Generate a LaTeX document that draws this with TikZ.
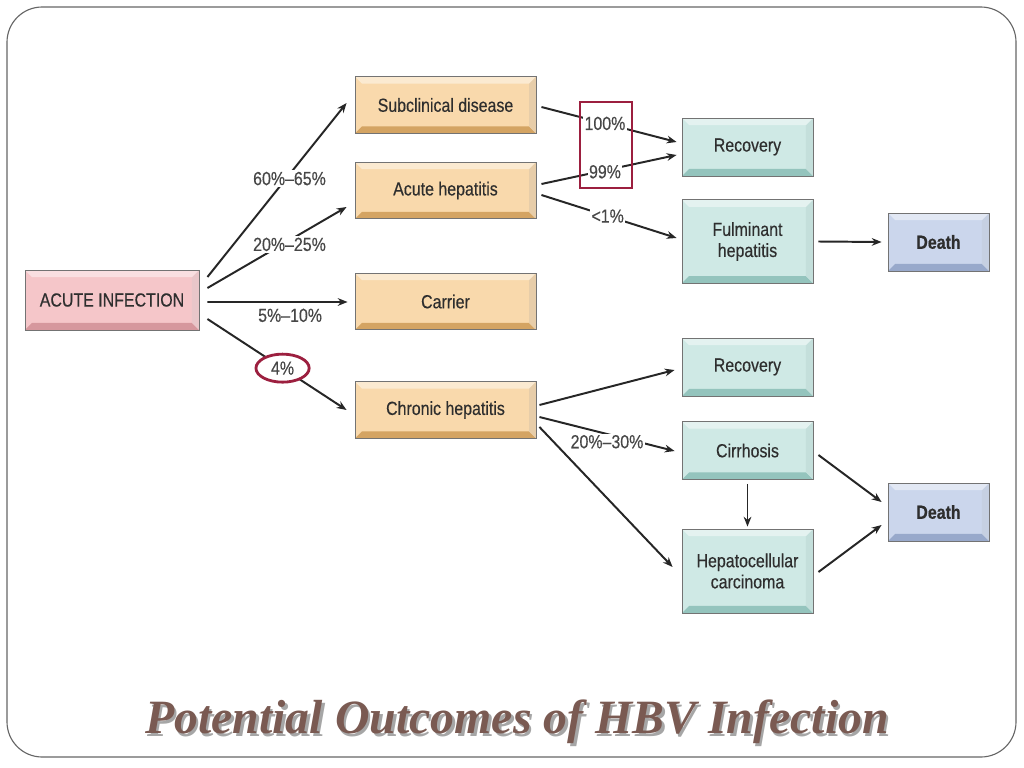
\documentclass[tikz,border=0pt]{standalone}
\usepackage{fontspec}
\setmainfont{Liberation Sans}[FakeStretch=0.84, FakeBold=0.35]
\newfontfamily\titlefont{Liberation Serif}
\usetikzlibrary{arrows.meta,shapes.geometric}
\definecolor{peach}{HTML}{F9D9AC}
\definecolor{peachdk}{HTML}{D4A463}
\definecolor{tealbox}{HTML}{CFE9E5}
\definecolor{tealdk}{HTML}{94C4BD}
\definecolor{bluebox}{HTML}{CBD6EC}
\definecolor{bluedk}{HTML}{98A9CB}
\definecolor{pinkbox}{HTML}{F5C6C9}
\definecolor{pinkdk}{HTML}{D6979D}
\definecolor{hilite}{HTML}{9C1F3F}
\definecolor{titlebrown}{HTML}{7A5A52}
\tikzset{
  bevel/.style={path picture={
    \fill[#1] (path picture bounding box.south west)
      -- ([shift={(5pt,5pt)}]path picture bounding box.south west)
      -- ([shift={(-5pt,5pt)}]path picture bounding box.south east)
      -- (path picture bounding box.south east) -- cycle;
    \fill[#1!55] (path picture bounding box.south east)
      -- ([shift={(-5pt,5pt)}]path picture bounding box.south east)
      -- ([shift={(-5pt,-5pt)}]path picture bounding box.north east)
      -- (path picture bounding box.north east) -- cycle;
    \fill[white,opacity=0.45] (path picture bounding box.north west)
      -- ([shift={(5pt,-5pt)}]path picture bounding box.north west)
      -- ([shift={(-5pt,-5pt)}]path picture bounding box.north east)
      -- (path picture bounding box.north east) -- cycle;}},
  box/.style={draw=black!55, line width=0.6pt, align=center, text=black!82,
    font=\fontsize{13.5}{15}\selectfont},
  start/.style={box, fill=pinkbox, bevel=pinkdk, minimum width=4.35cm, minimum height=1.5cm},
  stage/.style={box, fill=peach, bevel=peachdk, minimum width=4.525cm, minimum height=1.42cm},
  outcome/.style={box, fill=tealbox, bevel=tealdk, minimum width=3.275cm, minimum height=1.45cm},
  death/.style={box, fill=bluebox, bevel=bluedk, minimum width=2.525cm, minimum height=1.45cm,
    font=\fontsize{13.5}{15}\selectfont\bfseries},
  arr/.style={-{Stealth[length=7pt,width=5.5pt]}, line width=1.4pt, black!85},
  pct/.style={fill=white, inner sep=1pt, text=black!72, font=\fontsize{13.5}{15}\selectfont}
}
\begin{document}
\begin{tikzpicture}[x=0.025cm,y=-0.025cm]
\useasboundingbox (0,0) rectangle (1024,768);
\draw[black!60, line width=0.8pt, rounded corners=25pt] (7,7) rectangle (1016,757);

\node[start] (infect) at (112,300) {ACUTE INFECTION};
\node[stage] (sub) at (445.5,105) {Subclinical disease};
\node[stage] (acute) at (445.5,190.5) {Acute hepatitis};
\node[stage] (carrier) at (445.5,301.5) {Carrier};
\node[stage] (chronic) at (445.5,410) {Chronic hepatitis};
\node[outcome] (rec1) at (747.5,147) {Recovery};
\node[outcome, minimum height=2.08cm] (fulm) at (747.5,241.5) {Fulminant\\hepatitis};
\node[death] (death1) at (938.5,242) {Death};
\node[outcome] (rec2) at (747.5,367) {Recovery};
\node[outcome] (cirr) at (747.5,450.5) {Cirrhosis};
\node[outcome, minimum height=2.1cm] (hcc) at (747.5,571) {Hepatocellular\\carcinoma};
\node[death] (death2) at (938.5,512) {Death};

\draw[arr] ([shift={(8,-23)}]infect.east) -- node[pct, pos=0.59, yshift=-3pt] {60\%--65\%} ([shift={(-8,-2)}]sub.west);
\draw[arr] ([shift={(8,-12)}]infect.east) -- node[pct, pos=0.59, yshift=-3pt] {20\%--25\%} ([shift={(-8,16.5)}]acute.west);
\draw[arr] ([shift={(8,2)}]infect.east) -- node[pct, pos=0.59, below=3pt] {5\%--10\%} ([shift={(-7,0.5)}]carrier.west);
\draw[arr] ([shift={(8,19)}]infect.east) -- node[pct, pos=0.54, ellipse, draw=hilite, line width=2pt, inner sep=0pt, minimum width=1.33cm, minimum height=0.7cm] (four) {4\%} ([shift={(-8,0)}]chronic.west);

\draw[arr] ([shift={(5,2)}]sub.east) -- node[pct, pos=0.47] (hund) {100\%} ([shift={(-5,-5)}]rec1.west);
\draw[arr] ([shift={(5,-6.5)}]acute.east) -- node[pct, pos=0.47, yshift=-1pt] (ninety) {99\%} ([shift={(-5,8)}]rec1.west);
\draw[arr] ([shift={(5,4.5)}]acute.east) -- node[pct, pos=0.49] {<1\%} ([shift={(-5,-3.5)}]fulm.west);
\draw[arr] ([shift={(5,0)}]fulm.east) -- ([shift={(-6,0)}]death1.west);

\draw[arr] ([shift={(3,-5)}]chronic.east) -- ([shift={(-7,3)}]rec2.west);
\draw[arr] ([shift={(3,7)}]chronic.east) -- node[pct, pos=0.5, yshift=-5.5pt] {20\%--30\%} ([shift={(-7,0.5)}]cirr.west);
\draw[arr] ([shift={(3,17)}]chronic.east) -- ([shift={(-9,-4)}]hcc.west);
\draw[arr] ([shift={(0,4)}]cirr.south) -- ([shift={(0,-2)}]hcc.north);
\draw[arr] ([shift={(5,4.5)}]cirr.east) -- ([shift={(-6,-10)}]death2.west);
\draw[arr] ([shift={(5,1)}]hcc.east) -- ([shift={(-6,13)}]death2.west);

% highlight round the two recovery rates
\node[draw=hilite, line width=2pt, minimum width=1.3cm, minimum height=2.15cm] (mark) at (606,145) {};

\node[text=black!35, font=\titlefont\bfseries\itshape\fontsize{34}{40}\selectfont] (shadow) at (519.5,724.5) {Potential Outcomes of HBV Infection};
\node[text=titlebrown, font=\titlefont\bfseries\itshape\fontsize{34}{40}\selectfont] (title) at (517,722) {Potential Outcomes of HBV Infection};
\end{tikzpicture}
\end{document}
